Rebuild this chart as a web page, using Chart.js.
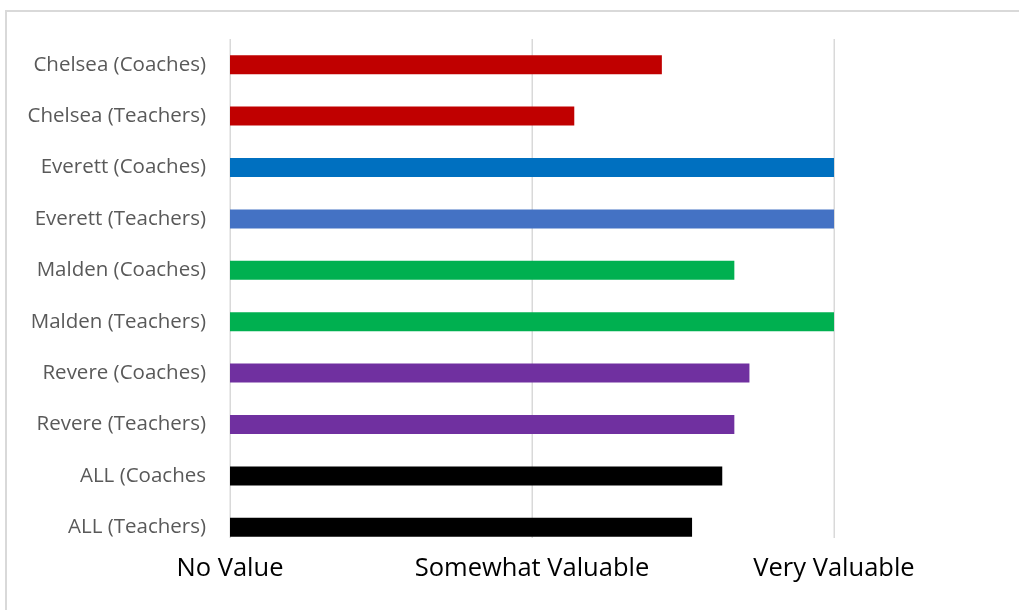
<!DOCTYPE html>
<html>
<head>
<meta charset="utf-8">
<script src="https://cdn.jsdelivr.net/npm/chart.js@4/dist/chart.umd.min.js"></script>
<style>
  html, body { margin: 0; padding: 0; background: #fff; overflow: hidden; }
  #frame { position: absolute; left: 5px; top: 10px; width: 1100px; height: 700px;
           border: 2px solid #D9D9D9; box-sizing: border-box; }
  #wrap { position: absolute; left: 0; top: 0; width: 1019px; height: 610px; }
</style>
</head>
<body>
<div id="frame"></div>
<div id="wrap"><canvas id="chart" width="1019" height="610"></canvas></div>
<script>
// Rating per group, 1 = No Value, 2 = Somewhat Valuable, 3 = Very Valuable
const categories = [
  'Chelsea (Coaches)', 'Chelsea (Teachers)',
  'Everett (Coaches)', 'Everett (Teachers)',
  'Malden (Coaches)', 'Malden (Teachers)',
  'Revere (Coaches)', 'Revere (Teachers)',
  'ALL (Coaches', 'ALL (Teachers)'
];
const ratings = [2.43, 2.14, 3.0, 3.0, 2.67, 3.0, 2.72, 2.67, 2.63, 2.53];
const barColors = [
  '#C00000', '#C00000',
  '#0070C0', '#4472C4',
  '#00B050', '#00B050',
  '#7030A0', '#7030A0',
  '#000000', '#000000'
];
const tickValues = [1, 2, 3];
const tickLabels = ['No Value', 'Somewhat Valuable', 'Very Valuable'];

// vertical grid lines stop a little above the bottom of the plot area
const gridPlugin = {
  id: 'valueGrid',
  beforeDatasetsDraw(chart) {
    const { ctx, chartArea, scales } = chart;
    const bottom = chartArea.bottom - 15;
    ctx.save();
    ctx.strokeStyle = '#D9D9D9';
    ctx.lineWidth = 1.5;
    tickValues.forEach(v => {
      const x = Math.round(scales.x.getPixelForValue(v)) + 0.25;
      ctx.beginPath();
      ctx.moveTo(x, chartArea.top);
      ctx.lineTo(x, bottom);
      ctx.stroke();
    });
    ctx.restore();
  }
};

new Chart(document.getElementById('chart'), {
  type: 'bar',
  data: {
    labels: categories,
    datasets: [{
      data: ratings,
      backgroundColor: barColors,
      borderWidth: 0,
      barPercentage: 0.37,
      categoryPercentage: 1.0
    }]
  },
  options: {
    indexAxis: 'y',
    responsive: false,
    animation: false,
    layout: { padding: { left: 0, right: 185, top: 39, bottom: 0 } },
    plugins: { legend: { display: false }, tooltip: { enabled: false } },
    scales: {
      x: {
        type: 'linear',
        min: 1,
        max: 3,
        afterBuildTicks(scale) { scale.ticks = tickValues.map(v => ({ value: v })); },
        afterFit(scale) { scale.height = 57; },
        grid: { display: false, drawTicks: false },
        border: { display: false },
        ticks: {
          padding: 0,
          color: '#000000',
          font: { family: 'Open Sans', size: 25.5 },
          callback(value) { return tickLabels[tickValues.indexOf(value)]; }
        }
      },
      y: {
        afterFit(scale) { scale.width = 230; },
        grid: { display: false, drawTicks: false },
        border: { display: false },
        ticks: {
          padding: 24,
          color: '#595959',
          font: { family: 'Open Sans', size: 20.5 }
        }
      }
    }
  },
  plugins: [gridPlugin]
});
</script>
</body>
</html>
